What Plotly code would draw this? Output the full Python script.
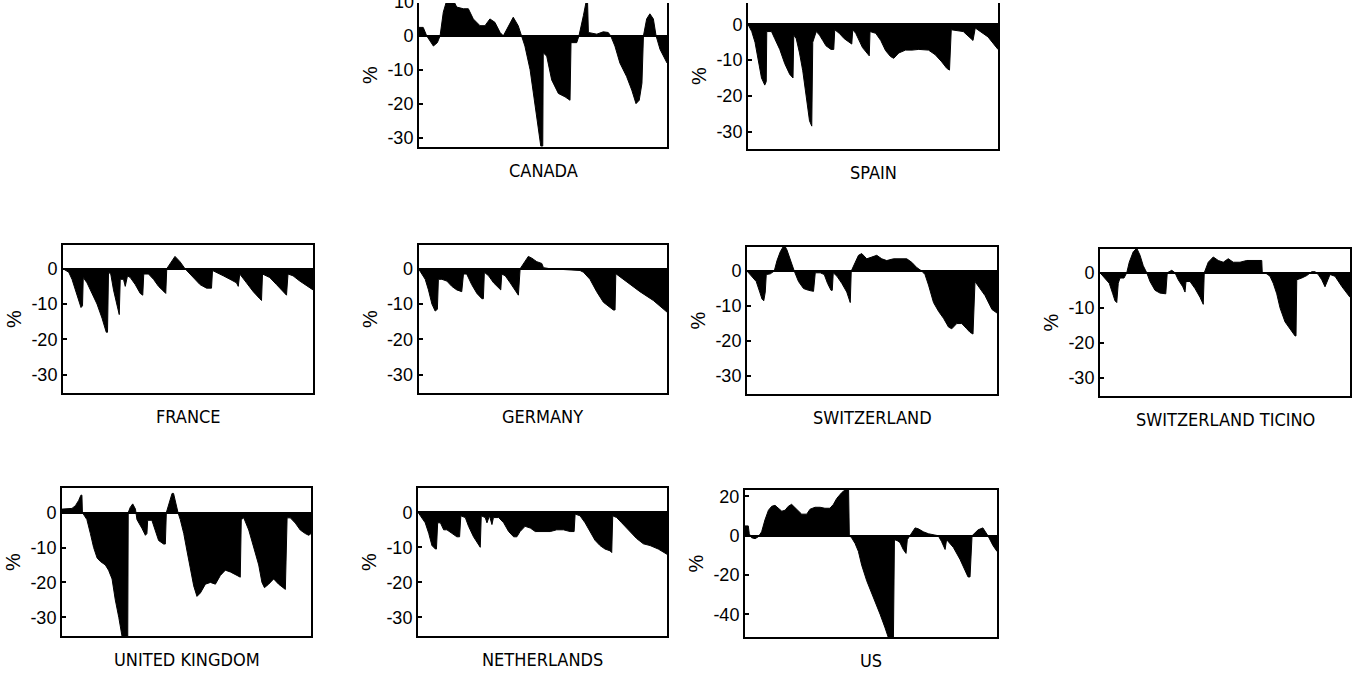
import plotly.graph_objects as go

W, H = 1355, 673

# Deviation from trend, % (time index 0-100 over the sample)
canada_t = [0, 1.7, 3.1, 5.8, 7.4, 8.5, 9.8, 11.4, 13.2, 15.2, 17.9, 19.9, 21.9, 24.6, 26.6,
            28.6, 30.6, 32.7, 34.0, 35.4, 38.0, 40.0, 41.4, 42.7, 44.8, 46.8, 48.1, 49.1, 49.9,
            50.1, 51.5, 53.5, 56.2, 58.9, 60.9, 61.3, 63.6, 64.5, 66.3, 67.9, 68.3, 71.7, 74.3,
            76.3, 77.3, 79.0, 81.0, 83.7, 85.8, 87.5, 88.8, 89.9, 90.5, 91.8, 93.1, 94.5, 95.6,
            97.2, 100]
canada_pct = [2.5, 2.5, 0, -3, -2, 0, 7, 11, 11.5, 8.5, 8, 8, 5, 3, 3,
              5, 4, 1, 0, 2, 5.5, 3, 0, -3, -10, -20, -28, -32.5, -32.5,
              -5, -6, -13, -17, -18, -19, -2, -2, 0, 6, 12, 1, 0.5, 1.2,
              1, 0, -3, -8, -12, -16, -20, -19, -14, 0, 5, 6.5, 5, 0,
              -4, -8]

spain_t = [0, 1.5, 2.8, 4.1, 5.4, 6.7, 7.3, 7.5, 9.4, 10.7, 12.7, 14.7, 16.7, 18.0, 18.3,
           19.3, 20.6, 21.9, 23.3, 24.6, 25.5, 25.9, 27.3, 28.6, 29.9, 31.2, 33.2, 34.3, 34.7,
           36.5, 38.5, 41.2, 41.5, 41.9, 43.1, 45.8, 48.1, 48.5, 48.8, 51.1, 53.1, 55.0, 57.0,
           58.3, 60.3, 63.0, 65.6, 68.3, 72.2, 74.9, 77.5, 79.5, 80.6, 81.3, 86.1, 90.0, 90.9,
           96.0, 100]
spain_pct = [0, -2, -5, -10, -15, -17, -16, -2, -2, -4, -7, -11, -14, -15, -3,
             -4, -8, -13, -20, -27, -28.5, -5, -2, -3, -4.5, -6, -7, -7, -1.5,
             -2.5, -4, -5.5, -5.5, -1.5, -2.5, -6.5, -8.5, -8.8, -2, -2.5, -4.5, -7.3, -9,
             -9.5, -8, -7.2, -7.2, -7, -7.2, -8.5, -10.5, -12.3, -12.8, -1.5, -2, -4.5, -1,
             -3.5, -7]

france_t = [0, 2.3, 3.6, 4.9, 6.3, 7.2, 7.8, 8.1, 9.6, 11.6, 13.6, 15.6, 17.3, 17.8, 18.2,
            19.1, 20.2, 21.5, 22.5, 22.9, 24.2, 24.9, 25.8, 26.9, 28.9, 30.9, 31.9, 32.3, 34.2,
            36.2, 38.2, 40.4, 41.1, 41.5, 42.8, 44.8, 46.8, 48.8, 50.8, 52.8, 54.8, 57.4, 59.4,
            59.8, 61.4, 64.1, 66.8, 69.4, 70.1, 70.7, 73.4, 76.1, 78.7, 79.4, 79.8, 82.7, 85.4,
            88.0, 89.4, 90.0, 92.0, 94.7, 97.3, 100]
france_pct = [0, -1, -3, -6, -9.5, -11, -10.5, -2.5, -4, -7, -10, -14, -18, -18, -1,
              -1.5, -6, -10, -13, -3, -3, -5, -2, -2.5, -4.5, -7, -7.5, -1.5, -1.5,
              -3, -5, -6.5, -7, 0, 1.5, 3.5, 2, 0, -1.5, -3, -4.5, -5.5, -5.5,
              -0.5, -1, -2, -3, -4, -5, -1.5, -4, -6.5, -8.5, -9, -1.5, -2.5, -4.5,
              -6.5, -7.5, -1.5, -2, -3.5, -4.8, -6]

germany_t = [0, 1.3, 2.7, 4.0, 5.4, 6.7, 7.6, 8.0, 9.4, 11.4, 13.4, 15.4, 17.4, 18.1, 19.4,
             21.4, 23.5, 25.5, 26.1, 26.5, 28.2, 30.2, 32.2, 33.1, 33.5, 34.9, 36.9, 38.9, 40.2,
             40.9, 42.2, 44.2, 45.6, 47.6, 49.6, 50.3, 52.9, 58.3, 65.0, 66.4, 69.0, 71.7, 74.4,
             78.4, 79.1, 79.4, 83.8, 89.1, 94.5, 100]
germany_pct = [0, -1.5, -3, -6, -10, -12, -11.5, -3, -3, -3.5, -5, -6, -6.5, -1.5, -1.5,
               -4.5, -7, -8.5, -8.5, -1, -2, -4, -5.5, -6, -1.5, -2, -4, -6, -7.5,
               0, 1.5, 3.5, 3, 2, 1.5, 0.3, 0, -0.2, -0.5, -1, -3, -6.5, -9.5,
               -11.7, -11.7, -1.4, -3.7, -6.5, -9, -12.3]

switzerland_t = [0, 2.0, 3.7, 5.1, 6.0, 6.7, 7.3, 7.7, 9.3, 10.9, 12.0, 13.3, 14.9, 16.0, 17.3,
                 18.9, 20.6, 22.6, 24.6, 26.6, 27.3, 29.3, 30.9, 32.2, 33.6, 34.1, 34.5, 36.0,
                 37.9, 39.9, 41.3, 41.7, 43.3, 44.6, 45.9, 47.9, 49.9, 51.9, 53.9, 55.9, 58.6,
                 61.3, 63.9, 65.9, 67.9, 69.9, 71.2, 72.6, 74.6, 76.6, 78.6, 80.6, 81.9, 83.9,
                 85.9, 87.9, 89.2, 90.4, 91.2, 95.2, 98.0, 100]
switzerland_pct = [0, -1.5, -3, -6, -8, -8.5, -6, -1, -0.8, 0, 3, 5.5, 7.5, 6, 3,
                   0, -3, -5, -5.5, -5.8, -0.5, -0.5, -1, -3.5, -5.5, -5.5, -0.5, -1.5,
                   -3.5, -6, -9, 0, 2.5, 4.5, 5, 3.5, 4, 4.5, 3.5, 3, 3.5,
                   3.5, 3.5, 2.5, 1, 0, -1, -4, -9, -11.5, -13.5, -16, -16.5, -15,
                   -15, -16.5, -17.5, -18, -3, -7, -11, -12]

ticino_t = [0, 2.0, 3.7, 5.1, 6.0, 6.7, 7.3, 8.0, 9.6, 10.7, 11.7, 13.3, 14.7, 16.0, 17.3,
            18.7, 20.0, 22.0, 24.0, 26.3, 26.9, 28.7, 30.0, 31.3, 33.1, 34.0, 34.4, 36.0, 38.0,
            40.0, 41.3, 41.7, 43.3, 45.3, 47.3, 49.3, 51.3, 53.3, 56.0, 58.7, 61.3, 64.7, 64.9,
            66.7, 68.0, 69.3, 70.7, 72.0, 74.0, 76.0, 78.0, 78.4, 78.7, 80.7, 82.7, 84.7, 86.0,
            87.3, 88.7, 90.0, 91.3, 92.0, 94.0, 96.8, 100]
ticino_pct = [0, -1.5, -3, -6, -8, -8.5, -3, -1.5, -1.5, 0, 3, 6, 7, 5, 2,
              0, -2.5, -5, -5.8, -6, 0, 0.7, 0, -2, -4, -5.5, -2.5, -2.5, -4.5,
              -7, -9, 0, 3, 4.5, 3.5, 3, 4, 3, 3, 3.5, 3.5, 3.5, 0,
              -0.3, -1, -3, -6, -10, -14, -16, -18, -18, -2, -1.5, -0.8, 0.3, 0.3,
              -0.5, -2, -4, -2, -0.5, -1, -4, -7]

uk_t = [0, 2.0, 4.0, 5.4, 6.7, 7.6, 8.0, 8.2, 8.7, 10.0, 11.4, 12.7, 14.1, 15.4, 17.4,
        18.7, 20.1, 21.4, 22.8, 24.1, 26.4, 26.6, 27.4, 28.4, 29.5, 30.1, 32.1, 33.5, 34.1,
        34.4, 36.1, 37.5, 38.8, 40.8, 41.5, 41.9, 42.8, 44.2, 44.8, 46.2, 46.6, 47.5, 48.9,
        50.2, 51.5, 52.9, 54.2, 55.6, 57.6, 59.6, 61.6, 63.6, 65.6, 67.6, 70.3, 71.6, 72.0,
        73.0, 75.0, 77.0, 79.0, 80.3, 81.3, 83.0, 85.0, 87.0, 89.0, 89.7, 90.4, 91.7, 93.7,
        95.7, 97.7, 99.1, 100]
uk_pct = [1, 1, 1.2, 2, 3.5, 5, 5, 0, -0.5, -2, -6, -10, -13, -14, -15,
          -16.5, -19, -25, -30, -35.4, -35.4, 0, 1.5, 2.5, 1, -2, -4.5, -6.5, -6,
          -2.2, -2.2, -5, -8, -9, -9, 0, 2, 5.5, 5.5, 1, 0, -2, -6,
          -11, -16, -21, -24, -23, -20.5, -20, -20.5, -18, -16.5, -17, -18, -18.5, -2,
          -1.5, -5, -10, -15, -20, -21.5, -20.5, -19, -20.5, -21.5, -22, -1.5, -1.5, -3,
          -5, -6, -6.5, -6]

netherlands_t = [0, 1.6, 2.9, 4.3, 5.6, 7.0, 7.4, 7.9, 9.0, 10.3, 11.6, 13.6, 15.6, 16.7, 17.2,
                 19.0, 20.3, 22.3, 24.3, 25.0, 25.4, 27.0, 27.7, 28.7, 29.7, 30.3, 32.4, 34.4,
                 36.4, 38.4, 39.7, 41.0, 43.0, 45.1, 47.1, 49.7, 53.1, 55.7, 58.4, 61.1, 62.7,
                 63.1, 65.1, 67.1, 69.1, 71.1, 73.1, 75.1, 77.1, 77.8, 78.2, 79.8, 81.8, 83.8,
                 85.8, 87.8, 90.5, 93.2, 96.5, 100]
netherlands_pct = [0, -1.5, -3, -6, -9.5, -10.5, -10.5, -3, -3, -5, -5, -6, -7, -7, -1,
                   -1.5, -4, -7, -9.5, -10, -1, -1.5, -3, -1, -3.5, -1.5, -1.5, -3,
                   -5.5, -7, -7, -5.5, -4, -4.5, -5.5, -5.5, -5.5, -5, -5, -5.5, -5.5,
                   -0.5, -1, -3, -5.5, -8, -9.5, -10.5, -11, -11.5, -1, -1.5, -3, -4.5,
                   -6, -7.5, -9, -9.5, -10.5, -12]

us_t = [0, 1.3, 1.7, 2.6, 4.0, 5.3, 6.6, 7.9, 9.3, 10.6, 11.9, 13.2, 14.6, 15.9, 17.2,
        18.5, 19.8, 21.2, 22.5, 24.5, 25.8, 27.8, 29.8, 31.7, 33.7, 35.1, 36.4, 38.4, 40.3,
        41.1, 41.4, 42.3, 43.7, 45.0, 46.3, 48.3, 50.9, 53.6, 55.6, 56.9, 58.9, 59.3, 60.4,
        61.5, 62.8, 63.9, 64.4, 65.5, 66.1, 67.5, 68.8, 70.8, 72.8, 74.7, 76.7, 78.0, 79.4,
        80.0, 82.7, 85.3, 87.3, 88.5, 89.3, 90.1, 92.5, 94.4, 96.4, 98.4, 100]
us_pct = [5, 5, 1, -1, -1.5, -0.5, 2, 8, 13, 15, 15.5, 14, 12.5, 13, 15,
          16, 14.5, 13, 11, 11, 13.5, 14.5, 14.5, 14, 14, 16, 19, 22, 24,
          24, 0, -1, -4, -8, -15, -23, -31, -40, -47, -52, -52, -2, -2.5,
          -3.5, -7, -9, -2, 0, 1, 4, 3.5, 2, 1, 0.5, 0, -3, -7,
          -2, -6, -12, -18, -21, -21, 0, 3, 4, 0, -5, -8]

TICKS_STD = [0, -10, -20, -30]
TICKS_US = [20, 0, -20, -40]

# name, time, values, x span (px), y span (px: top, bottom), y range, ticks, cut at top
panels = [
    ("CANADA", canada_t, canada_pct, (419, 667), (0, 145), (-32.9, 9.7), TICKS_STD, True),
    ("SPAIN", spain_t, spain_pct, (748, 998), (0, 147), (-35.0, 6.0), TICKS_STD, True),
    ("FRANCE", france_t, france_pct, (63, 313), (243, 392), (-35.3, 6.75), TICKS_STD, False),
    ("GERMANY", germany_t, germany_pct, (418.5, 667), (243, 392), (-35.3, 6.75), TICKS_STD, False),
    ("SWITZERLAND", switzerland_t, switzerland_pct, (747, 997), (245, 393), (-35.2, 6.9), TICKS_STD, False),
    ("SWITZERLAND TICINO", ticino_t, ticino_pct, (1100, 1350), (247, 395), (-35.2, 6.8), TICKS_STD, False),
    ("UNITED KINGDOM", uk_t, uk_pct, (62, 311), (487, 636), (-35.4, 7.1), TICKS_STD, False),
    ("NETHERLANDS", netherlands_t, netherlands_pct, (418, 667), (487, 636), (-35.4, 7.0), TICKS_STD, False),
    ("US", us_t, us_pct, (745, 997), (489, 637), (-51.7, 23.4), TICKS_US, False),
]

TICK_FONT = dict(family="Liberation Sans, Arial, sans-serif", size=18, color="black")
TITLE_FONT = dict(family="Liberation Sans, Arial, sans-serif", size=20, color="black")
LABEL_FONT = dict(family="Liberation Sans Narrow, Arial Narrow, DejaVu Sans Condensed, sans-serif",
                  size=18, color="black")

fig = go.Figure()
layout = dict(
    width=W, height=H,
    margin=dict(l=0, r=0, t=0, b=0),
    paper_bgcolor="white", plot_bgcolor="white",
    showlegend=False,
    annotations=[],
)

for i, (name, t, vals, (x0, x1), (ytop, ybot), yrange, ticks, cut) in enumerate(panels, start=1):
    xa = "xaxis" if i == 1 else f"xaxis{i}"
    ya = "yaxis" if i == 1 else f"yaxis{i}"
    xref = "x" if i == 1 else f"x{i}"
    yref = "y" if i == 1 else f"y{i}"

    fig.add_trace(go.Scatter(
        x=t, y=vals, mode="lines", xaxis=xref, yaxis=yref,
        line=dict(color="black", width=1),
        fill="tozeroy", fillcolor="black",
        hoverinfo="skip",
    ))

    layout[xa] = dict(
        domain=[x0 / W, x1 / W], anchor=yref, range=[0, 100],
        showgrid=False, zeroline=False, showticklabels=False, ticks="",
        showline=True, linecolor="black", linewidth=2,
        mirror=False if cut else True,
    )
    layout[ya] = dict(
        domain=[1 - ybot / H, 1 - ytop / H], anchor=xref, range=list(yrange),
        showgrid=False,
        zeroline=True, zerolinecolor="black", zerolinewidth=1.5,
        tickmode="array", tickvals=ticks, ticktext=[str(v) for v in ticks],
        ticks="inside", ticklen=4, tickwidth=1.5, tickcolor="black",
        tickfont=TICK_FONT,
        showline=True, linecolor="black", linewidth=2, mirror=True,
        title=dict(text="%", font=TITLE_FONT, standoff=4),
    )

    # country caption under each panel
    layout["annotations"].append(dict(
        text=name, xref="paper", yref="paper",
        x=(x0 + x1) / 2 / W, y=1 - (ybot + 23) / H,
        xanchor="center", yanchor="middle", showarrow=False, font=LABEL_FONT,
    ))

# Canada's "10" tick label sits just past the top edge of the page
layout["annotations"].append(dict(
    text="10", xref="paper", yref="paper", x=416 / W, y=1 + 1.0 / H,
    xanchor="right", yanchor="middle", showarrow=False, font=TICK_FONT,
))

fig.update_layout(**layout)
fig.write_html("out.html")
